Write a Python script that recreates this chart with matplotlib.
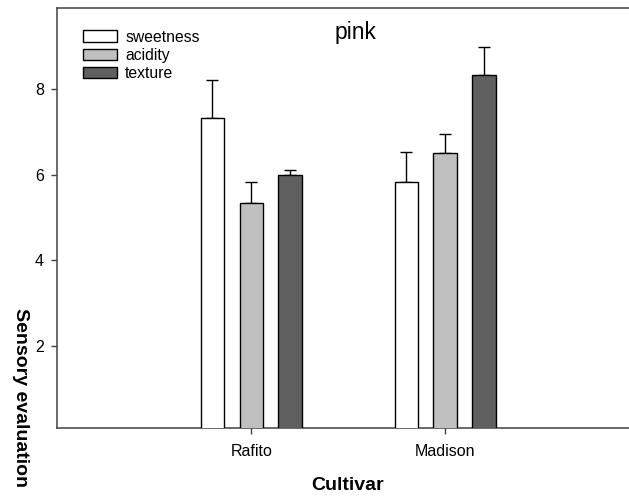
import matplotlib
matplotlib.use("Agg")
import matplotlib.pyplot as plt
import numpy as np

plt.rcParams['font.family'] = ['Liberation Sans', 'DejaVu Sans']

# Mean sensory scores per cultivar, with standard errors
cultivars = ['Rafito', 'Madison']
attributes = ['sweetness', 'acidity', 'texture']
sweetness = [7.33, 5.83]
sweetness_err = [0.88, 0.70]
acidity = [5.33, 6.50]
acidity_err = [0.49, 0.46]
texture = [6.00, 8.33]
texture_err = [0.12, 0.64]
y_ticks = [2, 4, 6, 8]

series = [sweetness, acidity, texture]
errors = [sweetness_err, acidity_err, texture_err]
colors = ['white', '#c0c0c0', '#5f5f5f']
offsets = [-0.2, 0.0, 0.2]
bar_width = 0.12

fig = plt.figure(figsize=(6.29, 5.01), dpi=100)
ax = fig.add_axes([57.3 / 629, 73.5 / 501, (639 - 57.3) / 629, (427.5 - 7.5) / 501])

x = np.arange(1, len(cultivars) + 1)
handles = []
for vals, errs, col, off, name in zip(series, errors, colors, offsets, attributes):
    b = ax.bar(x + off, vals, width=bar_width, color=col, edgecolor='black',
               linewidth=1.0, zorder=3, label=name)
    handles.append(b)
    ax.errorbar(x + off, vals, yerr=[np.zeros(len(vals)), errs], fmt='none',
                ecolor='black', elinewidth=1.0, capsize=4.6, capthick=1.0,
                zorder=2.8)

ax.set_xlim(0, 3)
ax.set_ylim(0.1, 9.9)
ax.set_xticks(x)
ax.set_xticklabels(cultivars, fontsize=11.5)
ax.set_yticks(y_ticks)
ax.set_yticklabels([str(t) for t in y_ticks], fontsize=11.5)
ax.tick_params(axis='both', direction='out', length=4, width=1.0,
               colors='#404040', labelcolor='black')
ax.tick_params(axis='y', pad=5.5)
ax.tick_params(axis='x', pad=8)

for side in ['left', 'bottom', 'top']:
    ax.spines[side].set_color('#505050')
    ax.spines[side].set_linewidth(1.2)
ax.spines['right'].set_visible(False)

leg = ax.legend(handles=handles, loc='upper left',
                bbox_to_anchor=(83.3 / 629, 1 - 29.5 / 501),
                bbox_transform=fig.transFigure, frameon=False, fontsize=11.3,
                handlelength=2.15, handleheight=0.71, handletextpad=0.52,
                labelspacing=0.22, borderpad=0, borderaxespad=0)

fig.text(356 / 629, 1 - 39.3 / 501, 'pink', ha='center', va='baseline',
         fontsize=16.5)
fig.text(347.5 / 629, 1 - 486 / 501, 'Cultivar', ha='center', va='center',
         fontsize=14, fontweight='bold')
fig.text(20 / 629, 1 - 398 / 501, 'Sensory evaluation', ha='center',
         va='center', rotation=270, fontsize=14, fontweight='bold')

fig.savefig('out.png', dpi=100)
